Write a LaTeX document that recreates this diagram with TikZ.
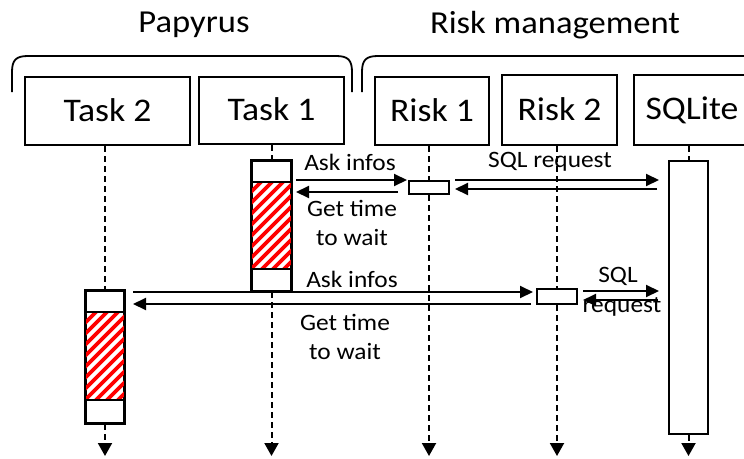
\documentclass[tikz,border=0pt]{standalone}
\usepackage{fontspec}
\setmainfont{Carlito}[FakeStretch=1.08]
\usetikzlibrary{arrows.meta}
\tikzset{
  lbl/.style={font=\fontsize{23.5}{29}\selectfont, align=center, inner sep=0pt},
  hdr/.style={font=\fontsize{32}{34}\selectfont, inner sep=0pt},
  obj/.style={draw, line width=2pt, inner sep=0pt, font=\fontsize{33}{35}\selectfont},
  act/.style={draw, fill=white, line width=2pt, inner sep=0pt, minimum width=39pt, anchor=north},
  msg/.style={line width=2pt, -{Triangle[length=13pt,width=12pt]}},
  life/.style={line width=2pt, dash pattern=on 6pt off 4pt},
  lifeend/.style={life, -{Triangle[length=13pt,width=14pt]}},
  hatch/.style={red, line width=3.8pt},
  brace/.style={line width=1.8pt}
}
\begin{document}
\begin{tikzpicture}[x=1pt,y=-1pt]
\clip (0,0) rectangle (744,458);
\fill[white] (0,0) rectangle (744,458);

% headers
\node[hdr] (hpap) at (194,25) {Papyrus};
\node[hdr] (hrisk) at (555,25) {Risk management};

% braces
\draw[brace] (12,92) -- (12,72) .. controls (12,60) and (16,56) .. (28,56) -- (336,56) .. controls (348,56) and (352,60) .. (352,72) -- (352,92);
\draw[brace] (362,92) -- (362,72) .. controls (362,60) and (366,56) .. (378,56) -- (760,56);

% objects
\node[obj, minimum width=165pt, minimum height=68pt] (t2) at (107.5,111) {\raisebox{2pt}{Task 2}};
\node[obj, minimum width=145pt, minimum height=67pt] (t1) at (271.5,110.5) {\raisebox{2pt}{Task 1}};
\node[obj, minimum width=114pt, minimum height=68pt] (r1) at (432,111) {\raisebox{1pt}{Risk 1}};
\node[obj, minimum width=115pt, minimum height=70pt] (r2) at (559.5,110) {\raisebox{1pt}{Risk 2}};
\node[obj, minimum width=116pt, minimum height=70pt] (sq) at (692,110) {\raisebox{1pt}{SQLite}};

% activation boxes
\node[act, minimum height=130pt] (t1a) at (271.5,160) {};
\node[act, minimum height=132pt, minimum width=38pt] (t2a) at (105,290) {};
\node[act, minimum height=13pt, minimum width=40pt] (r1a) at (429,180) {};
\node[act, minimum height=15pt, minimum width=40pt] (r2a) at (557,288) {};
\node[act, minimum height=273pt] (sqa) at (688.5,160) {};

% hatching Task 1
\begin{scope}
  \clip (252,182) rectangle (291,269);
  \foreach \k in {0,...,12} \draw[hatch] ({160+\k*11},272) -- ++(100,-100);
\end{scope}
\draw[line width=2pt] (252,182) -- (291,182);
\draw[line width=2pt] (252,269) -- (291,269);
\draw[line width=2pt] (t1a.north west) rectangle (t1a.south east);

% hatching Task 2
\begin{scope}
  \clip (86,312) rectangle (124,400);
  \foreach \k in {0,...,12} \draw[hatch] ({-6+\k*11},403) -- ++(100,-100);
\end{scope}
\draw[line width=2pt] (86,312) -- (124,312);
\draw[line width=2pt] (86,400) -- (124,400);
\draw[line width=2pt] (t2a.north west) rectangle (t2a.south east);

% lifelines
\coordinate (e2) at (105,456);
\coordinate (e1) at (271.5,456);
\coordinate (er1) at (429,456);
\coordinate (er2) at (557,456);
\coordinate (esq) at (688.5,456);
\draw[life] (t2.south -| t2a.north) -- (t2a.north);
\draw[lifeend] (t2a.south) -- (e2);
\draw[life] (t1.south) -- (t1a.north);
\draw[lifeend] (t1a.south) -- (e1);
\draw[life] (r1.south -| r1a.north) -- (r1a.north);
\draw[lifeend] (r1a.south) -- (er1);
\draw[life] (r2.south -| r2a.north) -- (r2a.north);
\draw[lifeend] (r2a.south) -- (er2);
\draw[life] (sq.south -| sqa.north) -- (sqa.north);
\draw[lifeend] (sqa.south) -- (esq);

% messages
\coordinate (a1s) at (296,180);  \coordinate (a1e) at (407,180);
\coordinate (g1s) at (398,192);  \coordinate (g1e) at (296,192);
\coordinate (s1s) at (455,180);  \coordinate (s1e) at (659,180);
\coordinate (s1rs) at (657,189); \coordinate (s1re) at (455,189);
\coordinate (a2s) at (133,292);  \coordinate (a2e) at (533,292);
\coordinate (g2s) at (531,304);  \coordinate (g2e) at (133,304);
\coordinate (s2s) at (583,291);  \coordinate (s2e) at (659,291);
\coordinate (s2rs) at (658,300); \coordinate (s2re) at (583,300);
\draw[msg] (a1s) -- (a1e);
\draw[msg] (g1s) -- (g1e);
\draw[msg] (s1s) -- (s1e);
\draw[msg] (s1rs) -- (s1re);
\draw[msg] (a2s) -- (a2e);
\draw[msg] (g2s) -- (g2e);
\draw[msg] (s2s) -- (s2e);
\draw[msg] (s2rs) -- (s2re);

% labels
\node[lbl] (l1) at (350,162) {Ask infos};
\node[lbl] (l2) at (352,223) {Get time\\to wait};
\node[lbl] (l3) at (550,162) {SQL request};
\node[lbl] (l4) at (352,279) {Ask infos};
\node[lbl] (l5) at (345,337) {Get time\\to wait};
\node[lbl] (l6) at (618,276) {SQL};
\node[lbl] (l7) at (622,307) {request};
\end{tikzpicture}
\end{document}
